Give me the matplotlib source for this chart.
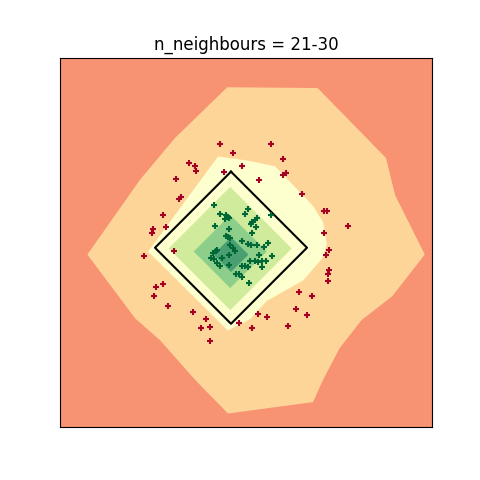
import numpy as np
import matplotlib
matplotlib.use("Agg")
import matplotlib.pyplot as plt

# ---- data ----
title = "n_neighbours = 21-30"

red_x = [-0.14, 0.03, 0.15, -0.55, -0.48, -0.46, -0.09, -0.73, -0.66, -0.69,
         -0.89, -0.86, -1.02, -1.04, 0.53, 0.69, 0.68, 0.72, 0.37, 0.94,
         1.22, 1.26, 1.54, 1.22, -1.14, -0.75, -0.99, -0.90, -1.01, -0.83,
         -0.50, -0.33, -0.40, -0.28, -0.28, 0.11, 1.29, 1.25, 1.29, 1.27,
         1.27, 0.89, 1.07, 0.86, 1.00, 0.35, 0.48, 0.28, 0.75]
red_y = [1.36, 1.25, 1.08, 1.11, 1.08, 1.01, 0.99, 0.90, 0.67, 0.64,
         0.43, 0.27, 0.24, 0.19, 1.36, 1.17, 0.95, 0.98, 0.89, 0.70,
         0.48, 0.48, 0.29, 0.20, -0.11, -0.04, -0.51, -0.48, -0.64, -0.77,
         -0.85, -0.94, -1.05, -1.04, -1.22, -0.99, -0.03, -0.09, -0.29, -0.34,
         -0.44, -0.58, -0.64, -0.81, -0.88, -0.87, -0.91, -1.06, -1.03]

green_x = [-0.22, -0.14, -0.07, -0.04, -0.02, -0.08, 0.23, 0.18, 0.34, 0.32,
           0.28, 0.26, 0.33, 0.28, 0.53, 0.49, 0.44, -0.21, -0.03, -0.07,
           -0.04, -0.01, 0.14, 0.22, 0.26, 0.34, -0.24, -0.20, -0.18, -0.26,
           -0.22, -0.12, -0.18, -0.14, -0.01, 0.03, 0.05, -0.02, -0.03, 0.14,
           0.19, 0.22, 0.25, 0.32, 0.36, 0.41, 0.46, 0.41, 0.07, 0.10,
           0.14, 0.24, 0.37, 0.54]
green_y = [0.56, 0.45, 0.43, 0.41, 0.39, 0.38, 0.51, 0.44, 0.39, 0.36,
           0.34, 0.31, 0.27, 0.20, 0.43, 0.06, 0.01, 0.28, 0.25, 0.16,
           0.14, 0.13, 0.09, 0.05, 0.04, 0.04, -0.07, -0.04, -0.03, -0.14,
           -0.15, -0.14, -0.20, -0.24, 0.03, -0.01, -0.04, -0.10, -0.23, -0.24,
           -0.24, -0.26, -0.17, -0.18, -0.19, -0.18, -0.17, -0.26, -0.34, -0.34,
           -0.38, -0.47, -0.10, -0.11]

# probability-band boundaries (outer irregular bands)
band2_x = [-1.89, -1.20, -0.74, -0.05, 1.14, 2.04, 2.16, 2.55, 2.12, 1.72,
           1.43, 1.21, 1.08, -0.04, -0.47, -0.93, -1.26]
band2_y = [-0.09, 0.89, 1.44, 2.11, 2.10, 1.18, 0.69, -0.09, -0.64, -0.95,
           -1.32, -1.74, -2.03, -2.18, -1.74, -1.22, -0.93]
band3_x = [-0.17, 0.25, 0.58, 1.07, 1.21, 1.26, 1.20, 0.95, 0.47, 0.25, -0.04, -1.09]
band3_y = [1.20, 1.14, 1.07, 0.56, 0.34, 0.05, -0.14, -0.43, -0.70, -0.94, -1.09, -0.05]

# inner diamond-shaped bands: centre x, centre y, radius
inner_cx = [-0.01, -0.01, 0.00]
inner_cy = [-0.01, -0.05, -0.09]
inner_r = [0.81, 0.48, 0.23]

# colour positions on RdYlGn for the six bands
band_levels = [0.2, 0.35, 0.5, 0.65, 0.8, 0.95]
band_alpha = 0.75

# true decision boundary |x| + |y| = 1
boundary_r = 1.0

xlim = (-2.25, 2.645)
ylim = (-2.36, 2.50)

# ---- drawing ----
cmap = plt.get_cmap("RdYlGn")


def solid(v):
    r, g, b, _ = cmap(v)
    a = band_alpha
    return (r * a + (1 - a), g * a + (1 - a), b * a + (1 - a))


def diamond(cx, cy, r):
    xs = np.array([cx, cx + r, cx, cx - r, cx])
    ys = np.array([cy + r, cy, cy - r, cy, cy + r])
    return xs, ys


fig, ax = plt.subplots(figsize=(4.8, 4.8), dpi=100)
colors = [solid(v) for v in band_levels]
ax.set_facecolor(colors[0])
ax.fill(band2_x, band2_y, color=colors[1], lw=0, zorder=1)
ax.fill(band3_x, band3_y, color=colors[2], lw=0, zorder=1)
for i, (cx, cy, r) in enumerate(zip(inner_cx, inner_cy, inner_r)):
    xs, ys = diamond(cx, cy, r)
    ax.fill(xs, ys, color=colors[3 + i], lw=0, zorder=1)

bx, by = diamond(0, 0, boundary_r)
ax.plot(bx, by, color="black", lw=1.5, zorder=2)

ax.scatter(red_x, red_y, marker="+", s=16, linewidths=1.5,
           color=cmap(0.0), zorder=3)
ax.scatter(green_x, green_y, marker="+", s=16, linewidths=1.5,
           color=cmap(1.0), zorder=3)

ax.set_xlim(*xlim)
ax.set_ylim(*ylim)
ax.set_xticks([])
ax.set_yticks([])
ax.set_title(title)

fig.savefig("out.png", dpi=100)
